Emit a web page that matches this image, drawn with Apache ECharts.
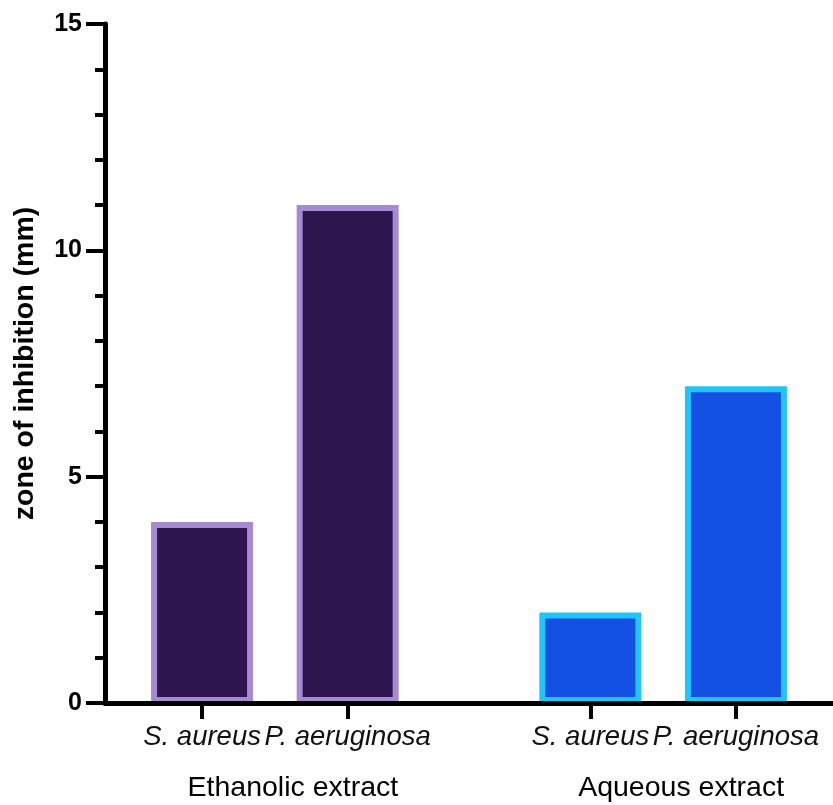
<!DOCTYPE html>
<html>
<head>
<meta charset="utf-8">
<script src="https://cdn.jsdelivr.net/npm/echarts@6/dist/echarts.min.js"></script>
<style>
html,body{margin:0;padding:0;background:#fff;}
#chart{width:833px;height:805px;}
</style>
</head>
<body>
<div id="chart"></div>
<script>
// ---- data ----
var categories = ['S. aureus', 'P. aeruginosa', 'S. aureus', 'P. aeruginosa'];
var groups = ['Ethanolic extract', 'Ethanolic extract', 'Aqueous extract', 'Aqueous extract'];
var groupNames = ['Ethanolic extract', 'Aqueous extract'];
var values = [4, 11, 2, 7];
var yTicks = [0, 5, 10, 15];
var yTitle = 'zone of inhibition (mm)';

// ---- layout (styling only) ----
var SLOTS = 16;
var slotIndex = [2, 5, 10, 13];
var groupStyle = {
  'Ethanolic extract': {fill: '#2d1650', border: '#a68ad2'},
  'Aqueous extract': {fill: '#1450e4', border: '#1ec6fc'}
};

var axisCats = [];
for (var i = 0; i < SLOTS; i++) axisCats.push('');
var seriesData = [];
for (var i = 0; i < SLOTS; i++) seriesData.push(null);
categories.forEach(function (c, k) {
  axisCats[slotIndex[k]] = c;
  var st = groupStyle[groups[k]];
  seriesData[slotIndex[k]] = {
    value: values[k],
    itemStyle: {color: st.fill, borderColor: st.border, borderWidth: 6}
  };
});

var chart = echarts.init(document.getElementById('chart'));
var FONT = '"Liberation Sans", Arial, Helvetica, sans-serif';
var isTickSlot = function (idx) { return slotIndex.indexOf(idx) >= 0; };

chart.setOption({
  animation: false,
  backgroundColor: '#ffffff',
  grid: {left: 105, top: 24, width: 733.5, height: 679, containLabel: false},
  xAxis: {
    type: 'category',
    data: axisCats,
    boundaryGap: false,
    z: 5,
    axisLine: {show: true, lineStyle: {color: '#000', width: 5}},
    axisTick: {show: true, length: 16, lineStyle: {color: '#000', width: 4},
      interval: function (idx) { return isTickSlot(idx); }},
    axisLabel: {show: true, interval: function (idx) { return isTickSlot(idx); },
      color: '#111', fontFamily: FONT, fontStyle: 'italic', fontSize: 27.5, margin: 21},
    splitLine: {show: false}
  },
  yAxis: {
    type: 'value',
    min: yTicks[0], max: yTicks[yTicks.length - 1], interval: 5,
    z: 5,
    name: yTitle,
    nameLocation: 'middle',
    nameGap: 65,
    nameTextStyle: {color: '#000', fontFamily: FONT, fontWeight: 'bold', fontSize: 28.5},
    axisLine: {show: true, lineStyle: {color: '#000', width: 5}},
    axisTick: {show: true, length: 19, lineStyle: {color: '#000', width: 4}},
    minorTick: {show: true, splitNumber: 5, length: 10, lineStyle: {color: '#000', width: 4}},
    axisLabel: {color: '#000', fontFamily: FONT, fontWeight: 'bold', fontSize: 25, margin: 23},
    splitLine: {show: false}
  },
  series: [{
    type: 'bar',
    data: seriesData,
    barWidth: 102,
    barMinWidth: 102,
    z: 2
  }]
});

// group labels under each pair of bars
var gfx = [];
groupNames.forEach(function (g) {
  var xs = [];
  groups.forEach(function (gg, k) {
    if (gg === g) xs.push(chart.convertToPixel({xAxisIndex: 0}, slotIndex[k]));
  });
  var cx = (Math.min.apply(null, xs) + Math.max.apply(null, xs)) / 2 + 18;
  gfx.push({
    type: 'text',
    x: cx, y: 788,
    style: {text: g, font: '28.5px ' + FONT, fill: '#000', textAlign: 'center', textVerticalAlign: 'middle'}
  });
});
chart.setOption({graphic: gfx});
</script>
</body>
</html>
